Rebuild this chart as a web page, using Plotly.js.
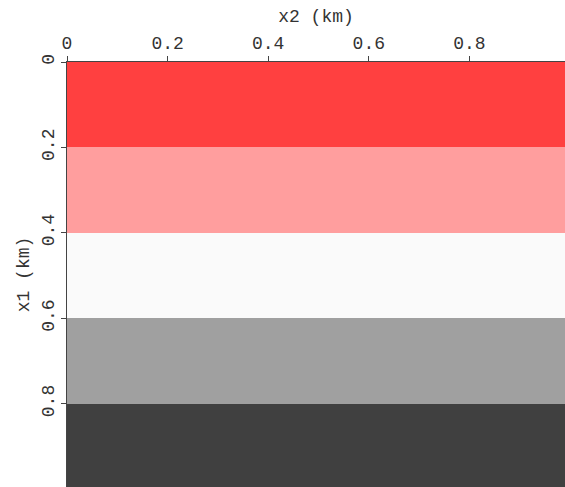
<!DOCTYPE html>
<html>
<head>
<meta charset="utf-8">
<script src="https://cdn.plot.ly/plotly-3.0.1.min.js"></script>
<style>html,body{margin:0;padding:0;background:#fff;}#chart{width:565px;height:487px;}</style>
</head>
<body>
<div id="chart"></div>
<script>
// Layer boundaries in x1 (depth, km) and extent in x2 (km)
var x2Edges = [0, 0.99];
var x1Edges = [0, 0.2, 0.4, 0.6, 0.8, 1.0];
// Layer values (one per layer, top to bottom)
var layerValues = [1, 2, 3, 4, 5];
var layerColors = ['#FF4040', '#FF9E9E', '#FAFAFA', '#A0A0A0', '#404040'];
var x2Ticks = [0, 0.2, 0.4, 0.6, 0.8];
var x1Ticks = [0, 0.2, 0.4, 0.6, 0.8];

var z = layerValues.map(function(v){ return [v]; });
var vmin = Math.min.apply(null, layerValues), vmax = Math.max.apply(null, layerValues);
var cs = [];
layerValues.forEach(function(v, i){
  var lo = (i === 0) ? 0 : ((layerValues[i-1] + v) / 2 - vmin) / (vmax - vmin);
  var hi = (i === layerValues.length - 1) ? 1 : ((v + layerValues[i+1]) / 2 - vmin) / (vmax - vmin);
  cs.push([lo, layerColors[i]]);
  cs.push([hi, layerColors[i]]);
});

var font = {family: 'Liberation Mono, Courier New, monospace', size: 18, color: '#333'};
Plotly.newPlot('chart', [{
  type: 'heatmap', x: x2Edges, y: x1Edges, z: z,
  colorscale: cs, zmin: vmin, zmax: vmax, showscale: false, hoverinfo: 'skip'
}], {
  width: 565, height: 487,
  margin: {l: 67, r: 0, t: 62, b: 0},
  paper_bgcolor: '#fff', plot_bgcolor: '#fff',
  font: font,
  xaxis: {
    side: 'top', range: [0, 0.99], tickvals: x2Ticks, ticktext: x2Ticks.map(String),
    ticks: 'outside', ticklen: 5, tickcolor: '#444', showline: true, linecolor: '#444', linewidth: 1,
    showgrid: false, zeroline: false, tickfont: font,
    title: {text: 'x2 (km)', font: font, standoff: 6}
  },
  yaxis: {
    range: [0.995, 0], tickvals: x1Ticks, ticktext: x1Ticks.map(String), tickangle: -90,
    ticks: 'outside', ticklen: 5, tickcolor: '#444', showline: true, linecolor: '#444', linewidth: 1,
    showgrid: false, zeroline: false, tickfont: font,
    title: {text: 'x1 (km)', font: font, standoff: 4}
  }
}, {displayModeBar: false, staticPlot: true});
</script>
</body>
</html>
